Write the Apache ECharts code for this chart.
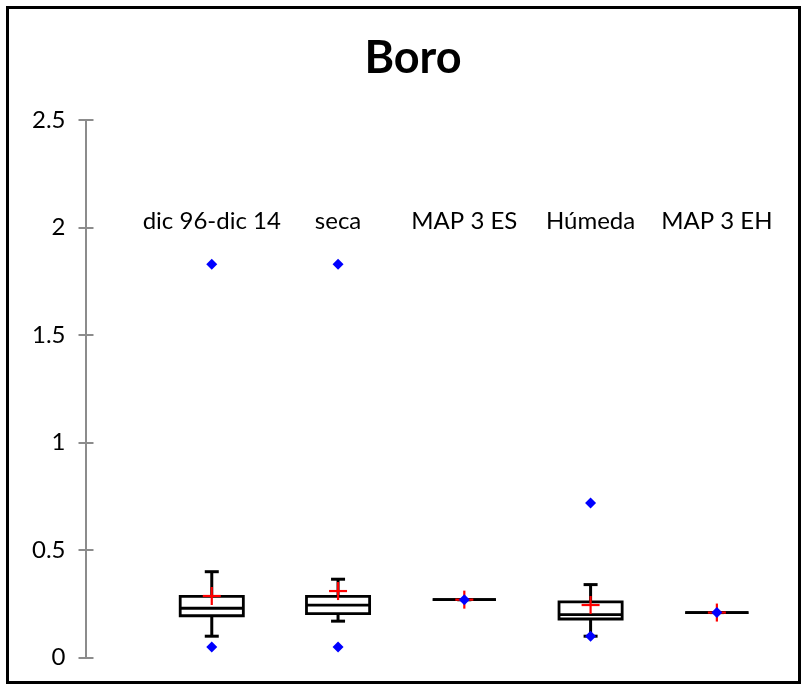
<!DOCTYPE html>
<html>
<head>
<meta charset="utf-8">
<script src="https://cdn.jsdelivr.net/npm/echarts@6/dist/echarts.min.js"></script>
<style>
  html, body { margin: 0; padding: 0; background: #ffffff; }
  #chart { width: 802px; height: 687px; }
</style>
</head>
<body>
<div id="chart"></div>
<script>
// Boron concentration summary per period / campaign
const categories  = ['dic 96-dic 14', 'seca', 'MAP 3 ES', 'Húmeda', 'MAP 3 EH'];
const whiskerLow  = [0.10, 0.17, 0.27, 0.10, 0.21];
const quartile1   = [0.195, 0.205, 0.27, 0.18, 0.21];
const medians     = [0.23, 0.245, 0.27, 0.20, 0.21];
const quartile3   = [0.285, 0.285, 0.27, 0.26, 0.21];
const whiskerHigh = [0.40, 0.365, 0.27, 0.34, 0.21];
const means       = [0.287, 0.31, 0.27, 0.245, 0.21];
const minValues   = [0.05, 0.05, 0.27, 0.10, 0.21];
const maxValues   = [1.83, 1.83, 0.27, 0.72, 0.21];
const yTicks      = [0, 0.5, 1, 1.5, 2, 2.5];
const labelLevel  = 2;

const FONT = 'Lato, "Open Sans", sans-serif';

const boxData = categories.map((c, i) => [i + 1, whiskerLow[i], quartile1[i], medians[i], quartile3[i], whiskerHigh[i]]);
const meanData = categories.map((c, i) => [i + 1, means[i]]);
const extremeData = [];
categories.forEach((c, i) => {
  extremeData.push([i + 1, minValues[i]]);
  if (maxValues[i] !== minValues[i]) extremeData.push([i + 1, maxValues[i]]);
});
const labelData = categories.map((c, i) => [i + 1, labelLevel]);

const chart = echarts.init(document.getElementById('chart'), null, { renderer: 'canvas' });

function renderBox(params, api) {
  const x = api.value(0);
  const pLow = api.coord([x, api.value(1)]);
  const pQ1 = api.coord([x, api.value(2)]);
  const pMed = api.coord([x, api.value(3)]);
  const pQ3 = api.coord([x, api.value(4)]);
  const pHigh = api.coord([x, api.value(5)]);
  const halfW = api.size([1, 0])[0] * 0.25;
  const capHalf = 7;
  const cx = pMed[0];
  const line = (x1, y1, x2, y2, w) => ({
    type: 'line',
    shape: { x1, y1, x2, y2 },
    style: { stroke: '#000', lineWidth: w, fill: null }
  });
  return {
    type: 'group',
    children: [
      line(cx, pLow[1], cx, pQ1[1], 3),
      line(cx, pQ3[1], cx, pHigh[1], 3),
      line(cx - capHalf, pLow[1], cx + capHalf, pLow[1], 3),
      line(cx - capHalf, pHigh[1], cx + capHalf, pHigh[1], 3),
      {
        type: 'rect',
        shape: { x: cx - halfW, y: pQ3[1], width: halfW * 2, height: pQ1[1] - pQ3[1] },
        style: { stroke: '#000', lineWidth: 2.8, fill: null }
      },
      line(cx - halfW, pMed[1], cx + halfW, pMed[1], 2.8)
    ]
  };
}

function renderCross(params, api) {
  const p = api.coord([api.value(0), api.value(1)]);
  const h = 9;
  return {
    type: 'group',
    children: [
      { type: 'line', shape: { x1: p[0] - h, y1: p[1], x2: p[0] + h, y2: p[1] }, style: { stroke: '#ff0000', lineWidth: 2.2 } },
      { type: 'line', shape: { x1: p[0], y1: p[1] - h, x2: p[0], y2: p[1] + h }, style: { stroke: '#ff0000', lineWidth: 2.2 } }
    ]
  };
}

function renderLabel(params, api) {
  const p = api.coord([api.value(0), api.value(1)]);
  return {
    type: 'text',
    x: p[0],
    y: p[1] - 6,
    style: {
      text: categories[params.dataIndex],
      fill: '#000',
      font: '24px ' + FONT,
      align: 'center',
      verticalAlign: 'middle'
    }
  };
}

const yBase = {
  type: 'value',
  min: yTicks[0],
  max: yTicks[yTicks.length - 1],
  interval: 0.5,
  position: 'left',
  splitLine: { show: false }
};

chart.setOption({
  animation: false,
  backgroundColor: '#ffffff',
  title: {
    text: 'Boro',
    left: 408,
    top: 31,
    textAlign: 'center',
    textStyle: { fontFamily: FONT, fontWeight: 'bold', fontSize: 45, color: '#000' }
  },
  grid: { left: 85.5, right: 22, top: 120.2, bottom: 29.3, containLabel: false },
  xAxis: {
    type: 'value', min: 0, max: 5.5,
    show: false
  },
  yAxis: [
    Object.assign({}, yBase, {
      axisLine: { show: true, lineStyle: { color: '#8c8c8c', width: 2 } },
      axisTick: { show: true, inside: false, length: 7, lineStyle: { color: '#8c8c8c', width: 2 } },
      axisLabel: { show: true, margin: 20, color: '#000', fontFamily: FONT, fontSize: 24 }
    }),
    Object.assign({}, yBase, {
      axisLine: { show: false },
      axisTick: { show: true, inside: true, length: 8, lineStyle: { color: '#8c8c8c', width: 2 } },
      axisLabel: { show: false }
    })
  ],
  graphic: [{
    type: 'rect',
    shape: { x: 7.5, y: 7.5, width: 792, height: 675 },
    style: { stroke: '#000', lineWidth: 3, fill: null },
    z: 100
  }],
  series: [
    {
      type: 'custom',
      name: 'boxes',
      renderItem: renderBox,
      encode: { x: 0, y: [1, 2, 3, 4, 5] },
      data: boxData,
      z: 2
    },
    {
      type: 'custom',
      name: 'mean',
      renderItem: renderCross,
      encode: { x: 0, y: 1 },
      data: meanData,
      z: 3
    },
    {
      type: 'scatter',
      name: 'extremes',
      symbol: 'diamond',
      symbolSize: [11, 11],
      itemStyle: { color: '#0000ff', opacity: 1 },
      data: extremeData,
      z: 4
    },
    {
      type: 'custom',
      name: 'labels',
      renderItem: renderLabel,
      encode: { x: 0, y: 1 },
      data: labelData,
      z: 5
    }
  ]
});
</script>
</body>
</html>
